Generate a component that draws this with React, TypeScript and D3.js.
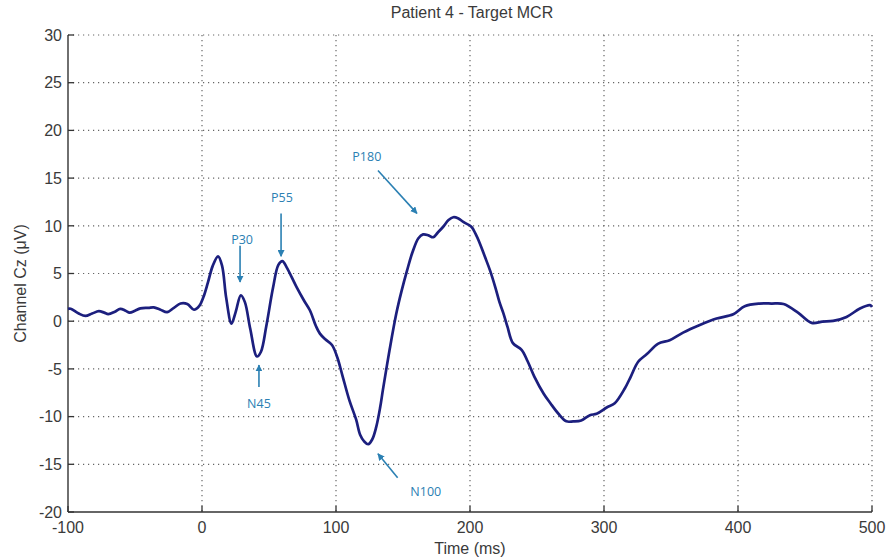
import React from "react";
import * as d3 from "d3";

const times = [-100,-98,-92,-87,-82,-77,-73,-70,-65,-61,-57,-54,-50,-46,-40,-36,-31,-26,-21,-16,-11,-6,-2,1,4.5,8,12,15,18,22,25,29,32,36,41,44,48,53,57,60,63,70.5,76,80.5,85,88,92,97,101,105,110,115,118,121,124,127,130,133,135,140,145,149,153,157,161.5,165,169,172.5,176,180,184,187.5,191,195,201,204,207.5,211,215,219,222,225,228,232,238.5,243,248,255,260,266,272,277,283,289.5,294.5,302,308,315.5,320,325.5,332,340.5,349,359,371.5,384,396.5,405,416,425,434,445,455,463,471,481,491,498.5,500];
const values = [1.3,1.3,0.8,0.55,0.8,1.05,0.9,0.75,1.0,1.3,1.1,0.9,1.1,1.35,1.4,1.45,1.2,0.95,1.4,1.85,1.8,1.2,1.6,2.5,4.1,5.8,6.8,5.8,2.5,-0.25,0.9,2.7,2.0,-0.8,-3.7,-3.2,-0.5,3.5,5.9,6.3,5.7,3.6,2.2,1.15,-0.5,-1.3,-1.9,-2.5,-3.8,-5.8,-8.3,-10.3,-11.9,-12.6,-12.9,-12.4,-11.1,-9.0,-7.2,-3.0,0.8,3.2,5.3,7.2,8.7,9.1,9.0,8.8,9.3,9.9,10.6,10.9,10.8,10.4,9.9,9.2,8.1,6.8,5.3,3.5,2.0,0.8,-0.6,-2.3,-3.0,-4.2,-5.8,-7.6,-8.6,-9.7,-10.5,-10.5,-10.4,-9.85,-9.7,-9.05,-8.6,-7.05,-5.8,-4.25,-3.45,-2.35,-2.0,-1.2,-0.4,0.28,0.73,1.57,1.85,1.85,1.8,0.87,-0.18,-0.05,0.03,0.45,1.33,1.68,1.5];

const xTicks = [-100, 0, 100, 200, 300, 400, 500];
const yTicks = [-20, -15, -10, -5, 0, 5, 10, 15, 20, 25, 30];

const annLabels = ["P30", "P55", "N45", "P180", "N100"];
const annTextX = [29.9, 59.7, 42.5, 123, 167];
const annTextY = [8.6, 13.0, -8.6, 17.3, -17.9];
const annFromX = [28.4, 59, 42.5, 131.3, 146];
const annFromY = [7.9, 11.3, -6.9, 15.8, -16.4];
const annToX = [28.4, 59, 42.5, 160.4, 131.3];
const annToY = [4.1, 6.8, -4.6, 11.3, -13.9];

const title = "Patient 4 - Target MCR";
const xLabel = "Time (ms)";
const yLabel = "Channel Cz (\u03bcV)";

export default function App() {
  const W = 887, H = 560;
  const left = 68, right = 872, top = 35, bottom = 512;
  const x = d3.scaleLinear().domain([-100, 500]).range([left, right]);
  const y = d3.scaleLinear().domain([-20, 30]).range([bottom, top]);
  const line = d3.line<number>()
    .x((_, i) => x(times[i]))
    .y((v) => y(v))
    .curve(d3.curveCatmullRom.alpha(0.5));
  const path = line(values) || "";
  const annColor = "#2b80b3";
  const tickFont = "'Liberation Sans', Arial, sans-serif";
  const gridColor = "#666";
  const textColor = "#3a3a3a";

  return (
    <svg width={W} height={H} style={{ position: "absolute", left: 0, top: 0, background: "#fff" }}>
      <defs>
        <marker id="ah" viewBox="0 0 10 10" refX="9" refY="5" markerWidth="7" markerHeight="7" orient="auto-start-reverse" markerUnits="userSpaceOnUse">
          <path d="M0,0 L10,5 L0,10 z" fill={annColor} />
        </marker>
      </defs>
      <rect x={0} y={0} width={W} height={H} fill="#fff" />
      {yTicks.filter((t) => t !== -20).map((t) => (
        <line key={"gy" + t} x1={left} x2={right} y1={y(t)} y2={y(t)} stroke={gridColor} strokeWidth={1.2} strokeDasharray="1.2,3.8" />
      ))}
      {xTicks.filter((t) => t !== -100).map((t) => (
        <line key={"gx" + t} x1={x(t)} x2={x(t)} y1={top} y2={bottom} stroke={gridColor} strokeWidth={1.2} strokeDasharray="1.2,3.8" />
      ))}
      <line x1={left} x2={left} y1={top} y2={bottom} stroke="#333" strokeWidth={1.4} />
      <line x1={left} x2={right} y1={bottom} y2={bottom} stroke="#333" strokeWidth={1.4} />
      {yTicks.map((t) => (
        <g key={"ty" + t}>
          <line x1={left} x2={left + 6} y1={y(t)} y2={y(t)} stroke="#333" strokeWidth={1.3} />
          <text x={left - 6} y={y(t)} dy="0.36em" textAnchor="end" fontFamily={tickFont} fontSize={16} fill={textColor}>{t}</text>
        </g>
      ))}
      {xTicks.map((t) => (
        <g key={"tx" + t}>
          <line x1={x(t)} x2={x(t)} y1={bottom} y2={bottom - 6} stroke="#333" strokeWidth={1.3} />
          <text x={x(t)} y={bottom + 21} textAnchor="middle" fontFamily={tickFont} fontSize={16} fill={textColor}>{t}</text>
        </g>
      ))}
      <path d={path} fill="none" stroke="#1c1f7e" strokeWidth={2.7} strokeLinejoin="round" />
      {annLabels.map((lab, i) => (
        <g key={lab}>
          <line x1={x(annFromX[i])} y1={y(annFromY[i])} x2={x(annToX[i])} y2={y(annToY[i])} stroke={annColor} strokeWidth={1.6} markerEnd="url(#ah)" />
          <text x={x(annTextX[i])} y={y(annTextY[i])} dy="0.35em" textAnchor="middle" fontFamily="'Open Sans', sans-serif" fontSize={12.5} fill={annColor}>{lab}</text>
        </g>
      ))}
      <text x={(left + right) / 2 + 2} y={18} textAnchor="middle" fontFamily={tickFont} fontSize={16} fill={textColor}>{title}</text>
      <text x={(left + right) / 2} y={554} textAnchor="middle" fontFamily={tickFont} fontSize={16} fill={textColor}>{xLabel}</text>
      <text transform={`translate(26,${(top + bottom) / 2 + 10}) rotate(-90)`} textAnchor="middle" fontFamily={tickFont} fontSize={16} fill={textColor}>{yLabel}</text>
    </svg>
  );
}
